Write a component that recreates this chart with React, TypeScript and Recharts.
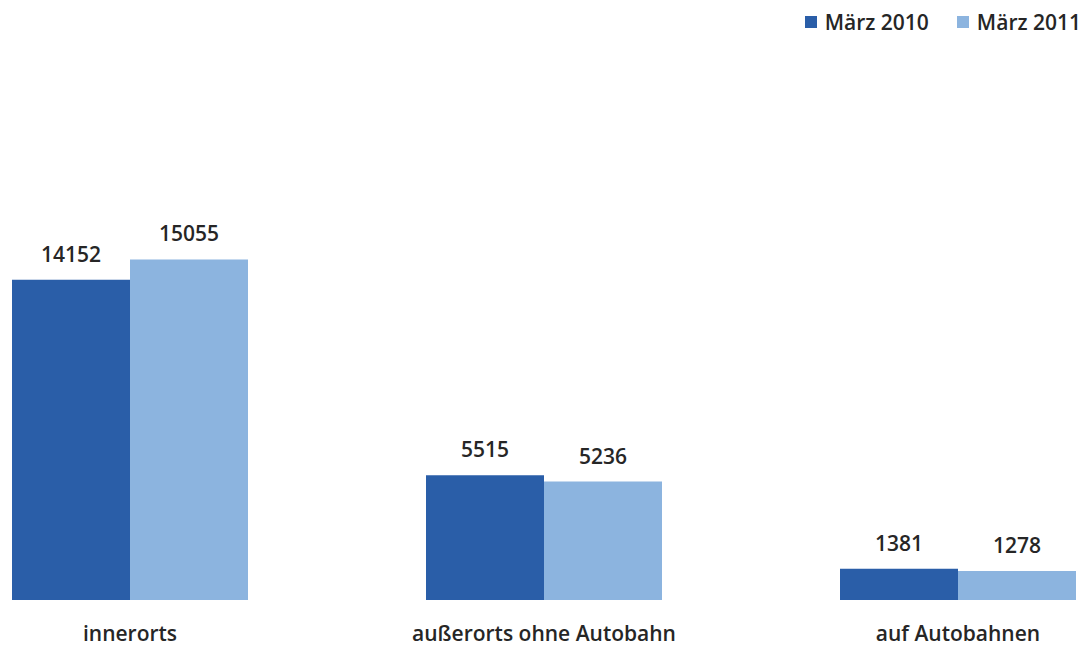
import React from 'react';
import { BarChart, Bar, XAxis, YAxis, LabelList, Legend } from 'recharts';

const categories = ['innerorts', 'außerorts ohne Autobahn', 'auf Autobahnen'];
const maerz2010 = [14152, 5515, 1381];
const maerz2011 = [15055, 5236, 1278];
const seriesNames = ['März 2010', 'März 2011'];
const colors = ['#2a5ea8', '#8cb4df'];

const data = categories.map((c, i) => ({ name: c, a: maerz2010[i], b: maerz2011[i] }));

const FONT = '"Open Sans", sans-serif';
const TXT = '#262626';
const W = 600;

const CatTick = (props: any) => {
  const { x, y, payload } = props;
  return (
    <text x={x} y={y} dy={41} textAnchor="middle" fontFamily={FONT} fontSize={21} fontWeight={W} fill={TXT}>
      {payload.value}
    </text>
  );
};

const LegendContent = () => (
  <div style={{ display: 'flex', alignItems: 'center', fontFamily: FONT, fontSize: 21, fontWeight: W, color: TXT, whiteSpace: 'nowrap' }}>
    {seriesNames.map((n, i) => (
      <div key={n} style={{ display: 'flex', alignItems: 'center', marginLeft: i ? 28 : 0 }}>
        <span style={{ display: 'inline-block', width: 12, height: 12, background: colors[i], marginRight: 8 }} />
        <span>{n}</span>
      </div>
    ))}
  </div>
);

export default function App() {
  return (
    <div style={{ position: 'absolute', left: 0, top: 0, width: 1086, height: 649, overflow: 'hidden', background: '#fff' }}>
      <div style={{ position: 'absolute', left: -77, top: 0 }}>
        <BarChart width={1242} height={649} data={data} margin={{ top: 238, right: 0, bottom: 19, left: 0 }} barCategoryGap={89} barGap={0}>
          <XAxis dataKey="name" height={30} axisLine={false} tickLine={false} tickSize={0} tickMargin={0} tick={<CatTick />} interval={0} />
          <YAxis hide width={0} domain={[0, 16000]} />
          <Legend verticalAlign="middle" align="center" layout="horizontal" content={<LegendContent />} wrapperStyle={{ top: 8, right: 84, left: 'auto', width: 'auto' }} />
          <Bar dataKey="a" name={seriesNames[0]} fill={colors[0]} isAnimationActive={false}>
            <LabelList dataKey="a" position="top" offset={18} fontFamily={FONT} fontSize={21} fontWeight={W} fill={TXT} />
          </Bar>
          <Bar dataKey="b" name={seriesNames[1]} fill={colors[1]} isAnimationActive={false}>
            <LabelList dataKey="b" position="top" offset={18} fontFamily={FONT} fontSize={21} fontWeight={W} fill={TXT} />
          </Bar>
        </BarChart>
      </div>
    </div>
  );
}
